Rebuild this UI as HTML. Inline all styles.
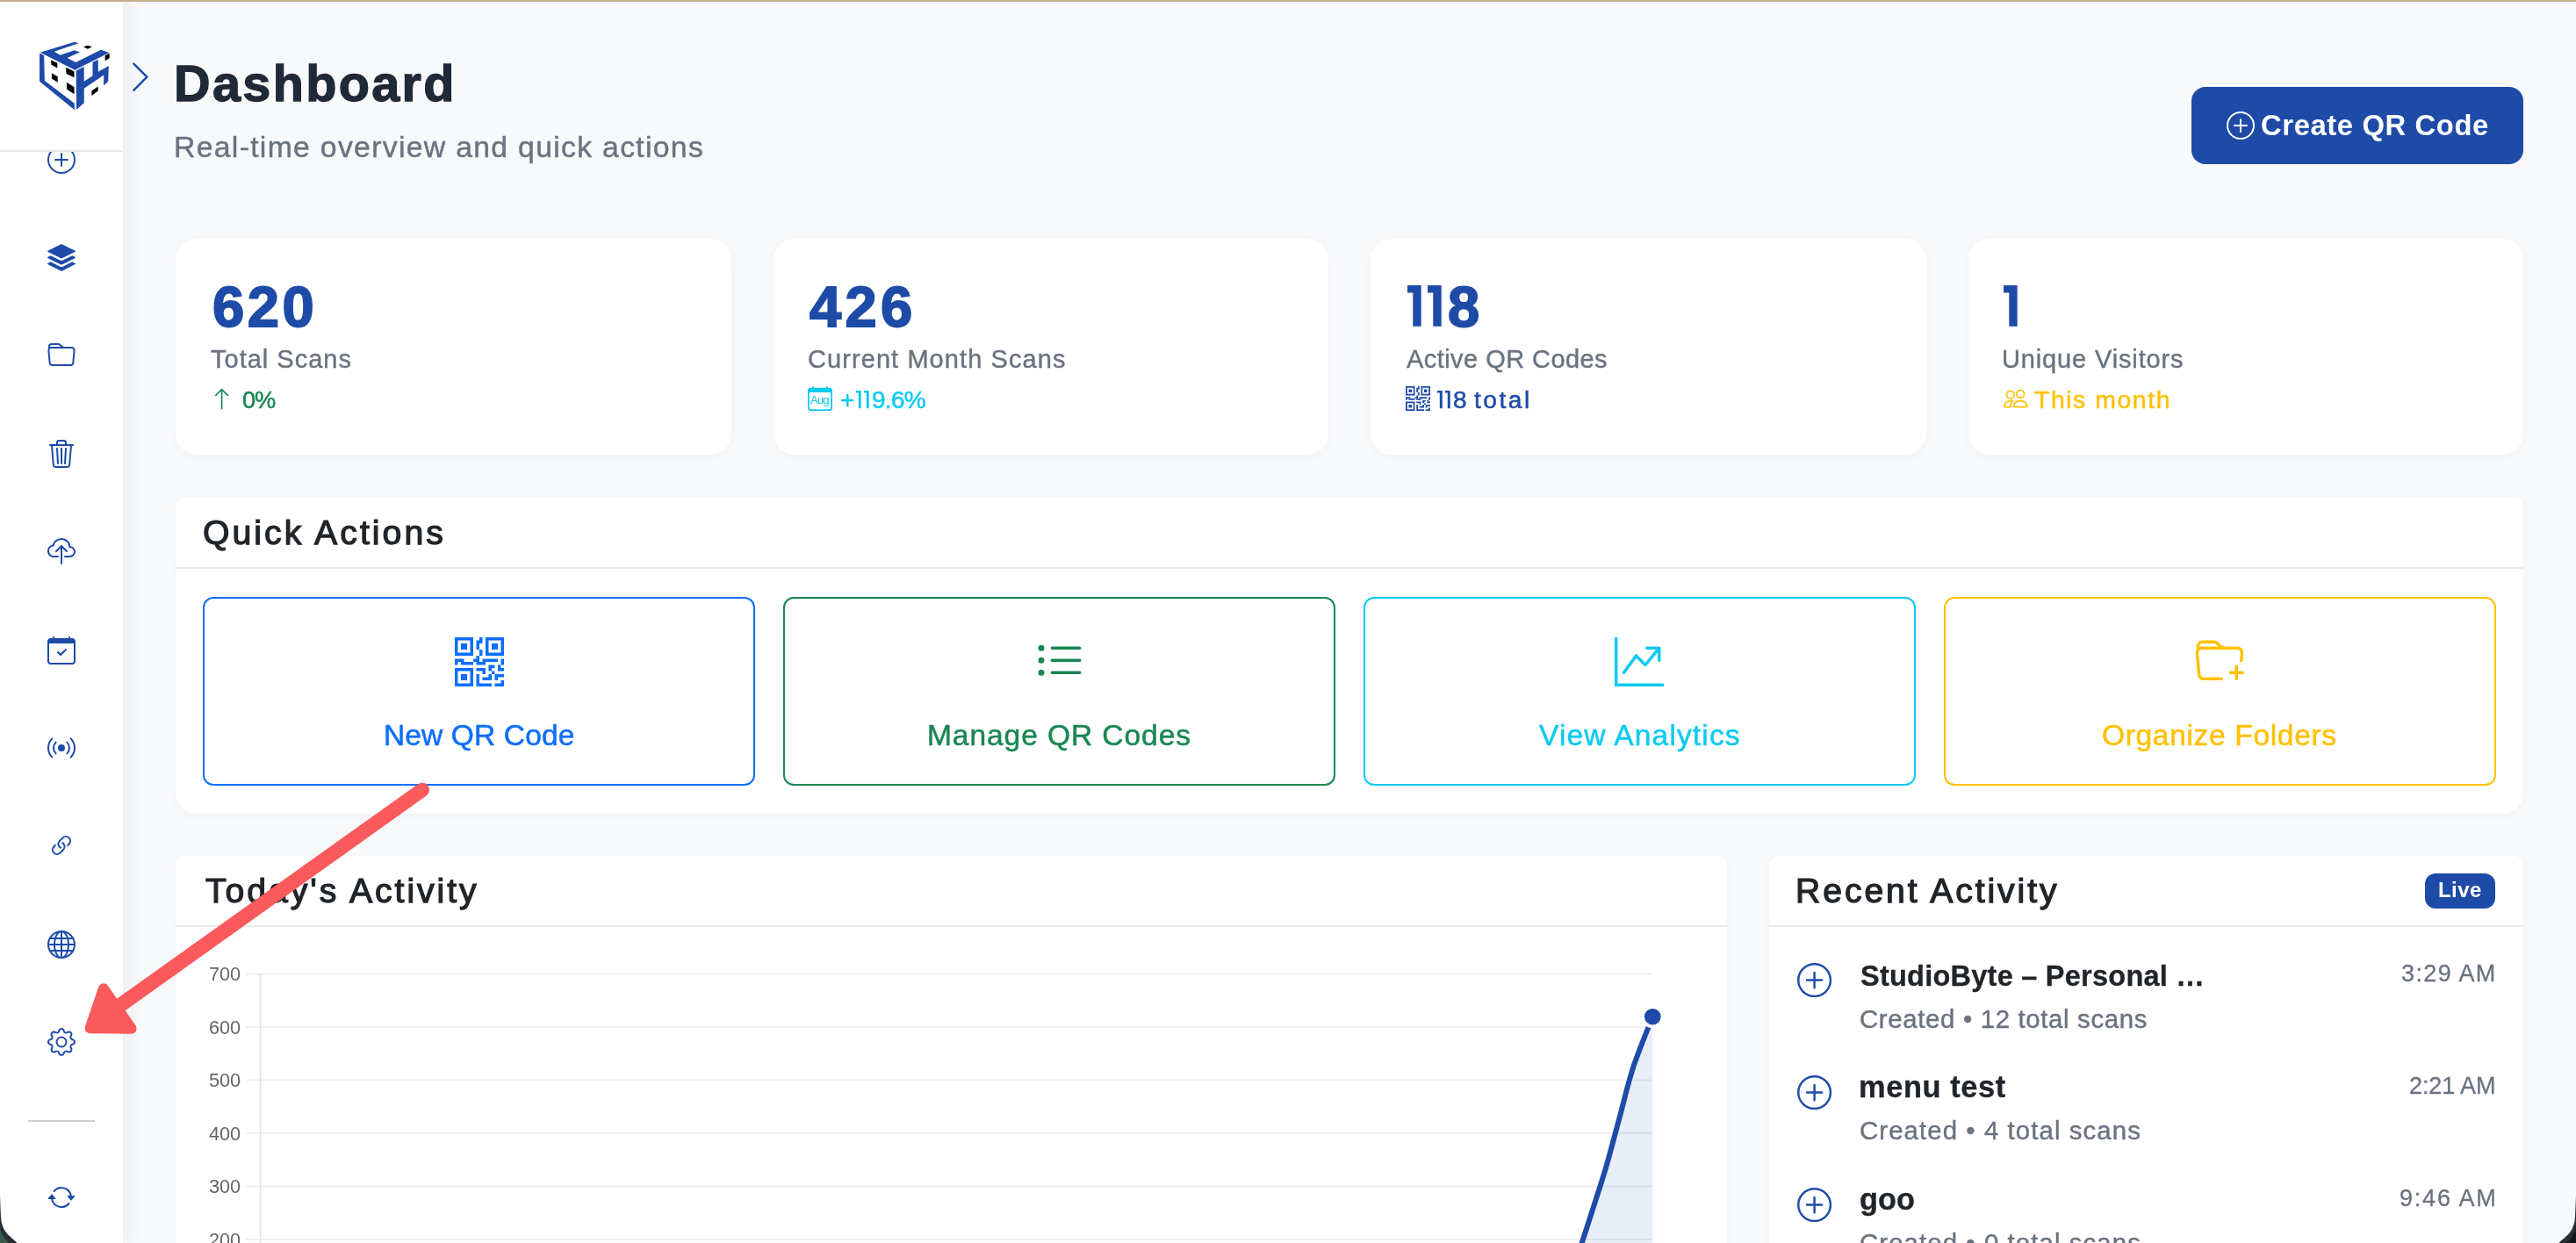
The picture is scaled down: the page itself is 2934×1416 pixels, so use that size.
<!DOCTYPE html>
<html lang="en"><head><meta charset="utf-8"><title>Dashboard</title>
<style>
*{box-sizing:border-box;margin:0;padding:0}
html,body{width:2934px;height:1416px;overflow:hidden;background:#f8f9fb;font-family:"Liberation Sans",sans-serif}
#root{position:absolute;left:0;top:0;width:2934px;height:1416px;overflow:hidden;background:#f8f9fb}
.t{position:absolute;white-space:nowrap;will-change:transform}
.i{position:absolute;display:block}
.b{position:absolute}
.card{position:absolute;background:#fff;box-shadow:0 3px 12px rgba(15,23,42,.035)}
.hl{position:absolute;height:2px;background:#e9ebef}
.qa{position:absolute;top:680px;height:215px;width:629px;border:2px solid;border-radius:12px;background:#fff}
</style></head><body><div id="root">

<div class="b" style="left:0;top:0;width:140px;height:1416px;background:#fff;box-shadow:4px 0 22px rgba(15,23,42,.07)"></div>
<svg class="i" style="left:54.00px;top:166.00px;" width="32" height="32" viewBox="0 0 16 16" fill="#1e4ba8"><path d="M8 15A7 7 0 1 1 8 1a7 7 0 0 1 0 14m0 1A8 8 0 1 0 8 0a8 8 0 0 0 0 16"/><path d="M8 4a.5.5 0 0 1 .5.5v3h3a.5.5 0 0 1 0 1h-3v3a.5.5 0 0 1-1 0v-3h-3a.5.5 0 0 1 0-1h3v-3A.5.5 0 0 1 8 4"/></svg>
<svg class="i" style="left:54.00px;top:277.70px;" width="32" height="32" viewBox="0 0 16 16" fill="#1e4ba8"><path d="m14.12 10.163 1.715.858c.22.11.22.424 0 .534L8.267 15.34a.6.6 0 0 1-.534 0L.165 11.555a.299.299 0 0 1 0-.534l1.716-.858 5.317 2.659c.505.252 1.1.252 1.604 0l5.317-2.66zM7.733.063a.6.6 0 0 1 .534 0l7.568 3.784a.3.3 0 0 1 0 .535L8.267 8.165a.6.6 0 0 1-.534 0L.165 4.382a.299.299 0 0 1 0-.535z"/><path d="m14.12 6.576 1.715.858c.22.11.22.424 0 .534l-7.568 3.784a.6.6 0 0 1-.534 0L.165 7.968a.299.299 0 0 1 0-.534l1.716-.858 5.317 2.659c.505.252 1.1.252 1.604 0z"/></svg>
<svg class="i" style="left:54.00px;top:389.40px;" width="32" height="32" viewBox="0 0 16 16" fill="#1e4ba8"><path d="M.54 3.87.5 3a2 2 0 0 1 2-2h3.672a2 2 0 0 1 1.414.586l.828.828A2 2 0 0 0 9.828 3h3.982a2 2 0 0 1 1.992 2.181l-.637 7A2 2 0 0 1 13.174 14H2.826a2 2 0 0 1-1.991-1.819l-.637-7a2 2 0 0 1 .342-1.31zM2.19 4a1 1 0 0 0-.996 1.09l.637 7a1 1 0 0 0 .995.91h10.348a1 1 0 0 0 .995-.91l.637-7A1 1 0 0 0 13.81 4zm4.69-1.707A1 1 0 0 0 6.172 2H2.5a1 1 0 0 0-1 .981l.006.139q.323-.119.684-.12h5.396z"/></svg>
<svg class="i" style="left:54.00px;top:501.10px;" width="32" height="32" viewBox="0 0 16 16" fill="#1e4ba8"><path d="M6.5 1h3a.5.5 0 0 1 .5.5v1H6v-1a.5.5 0 0 1 .5-.5M11 2.5v-1A1.5 1.5 0 0 0 9.5 0h-3A1.5 1.5 0 0 0 5 1.5v1H1.5a.5.5 0 0 0 0 1h.538l.853 10.66A2 2 0 0 0 4.885 16h6.23a2 2 0 0 0 1.994-1.84l.853-10.66h.538a.5.5 0 0 0 0-1zm1.958 1-.846 10.58a1 1 0 0 1-.997.92h-6.23a1 1 0 0 1-.997-.92L3.042 3.5zm-7.487 1a.5.5 0 0 1 .528.47l.5 8.5a.5.5 0 0 1-.998.06L5 5.03a.5.5 0 0 1 .47-.53Zm5.058 0a.5.5 0 0 1 .47.53l-.5 8.5a.5.5 0 1 1-.998-.06l.5-8.5a.5.5 0 0 1 .528-.47M8 4.5a.5.5 0 0 1 .5.5v8.5a.5.5 0 0 1-1 0V5a.5.5 0 0 1 .5-.5"/></svg>
<svg class="i" style="left:54.00px;top:612.80px;" width="32" height="32" viewBox="0 0 16 16" fill="#1e4ba8"><path fill-rule="evenodd" d="M4.406 1.342A5.53 5.53 0 0 1 8 0c2.69 0 4.923 2 5.166 4.579C14.758 4.804 16 6.137 16 7.773 16 9.569 14.502 11 12.687 11H10a.5.5 0 0 1 0-1h2.688C13.979 10 15 8.988 15 7.773c0-1.216-1.02-2.228-2.313-2.228h-.5v-.5C12.188 2.825 10.328 1 8 1a4.53 4.53 0 0 0-2.941 1.1c-.757.652-1.153 1.438-1.153 2.055v.448l-.445.049C2.064 4.805 1 5.952 1 7.318 1 8.785 2.23 10 3.781 10H6a.5.5 0 0 1 0 1H3.781C1.708 11 0 9.366 0 7.318c0-1.763 1.266-3.223 2.942-3.593.143-.863.698-1.723 1.464-2.383"/><path fill-rule="evenodd" d="M7.646 4.146a.5.5 0 0 1 .708 0l3 3a.5.5 0 0 1-.708.708L8.500 5.707V14.5a.5.5 0 0 1-1 0V5.707L5.354 7.854a.5.5 0 1 1-.708-.708z"/></svg>
<svg class="i" style="left:54.00px;top:724.50px;" width="32" height="32" viewBox="0 0 16 16" fill="#1e4ba8"><path d="M10.854 7.146a.5.5 0 0 1 0 .708l-3 3a.5.5 0 0 1-.708 0l-1.500-1.500a.5.5 0 1 1 .708-.708L7.500 9.793l2.646-2.647a.5.5 0 0 1 .708 0"/><path d="M3.500 0a.5.5 0 0 1 .5.5V1h8V.5a.5.5 0 0 1 1 0V1h1a2 2 0 0 1 2 2v11a2 2 0 0 1-2 2H2a2 2 0 0 1-2-2V3a2 2 0 0 1 2-2h1V.5a.5.5 0 0 1 .5-.5M1 4v10a1 1 0 0 0 1 1h12a1 1 0 0 0 1-1V4z"/></svg>
<svg class="i" style="left:54.00px;top:836.20px;" width="32" height="32" viewBox="0 0 16 16" fill="#1e4ba8"><path d="M3.050 3.050a7 7 0 0 0 0 9.900.5.5 0 0 1-.707.707 8 8 0 0 1 0-11.314.5.5 0 0 1 .707.707m2.122 2.122a4 4 0 0 0 0 5.656.5.5 0 1 1-.708.708 5 5 0 0 1 0-7.072.5.5 0 0 1 .708.708m5.656-.708a.5.5 0 0 1 .708 0 5 5 0 0 1 0 7.072.5.5 0 1 1-.708-.708 4 4 0 0 0 0-5.656.5.5 0 0 1 0-.708m2.122-2.120a.5.5 0 0 1 .707 0 8 8 0 0 1 0 11.313.5.5 0 0 1-.707-.707 7 7 0 0 0 0-9.900.5.5 0 0 1 0-.707zM10 8a2 2 0 1 1-4 0 2 2 0 0 1 4 0"/></svg>
<svg class="i" style="left:54.00px;top:947.90px;" width="32" height="32" viewBox="0 0 16 16" fill="#1e4ba8"><path d="M4.715 6.542 3.343 7.914a3 3 0 1 0 4.243 4.243l1.828-1.829A3 3 0 0 0 8.586 5.500L8 6.086a1 1 0 0 0-.154.199 2 2 0 0 1 .861 3.337L6.880 11.450a2 2 0 1 1-2.830-2.830l.793-.792a4 4 0 0 1-.128-1.287z"/><path d="M6.586 4.672A3 3 0 0 0 7.414 9.500l.775-.776a2 2 0 0 1-.896-3.346L9.120 3.550a2 2 0 1 1 2.830 2.830l-.793.792c.112.420.155.855.128 1.287l1.372-1.372a3 3 0 1 0-4.243-4.243z"/></svg>
<svg class="i" style="left:54.00px;top:1059.60px;" width="32" height="32" viewBox="0 0 16 16" fill="#1e4ba8"><path d="M0 8a8 8 0 1 1 16 0A8 8 0 0 1 0 8m7.500-6.923c-.67.204-1.335.82-1.887 1.855A8 8 0 0 0 5.145 4H7.500zM4.090 4a9.300 9.300 0 0 1 .64-1.539 7 7 0 0 1 .597-.933A7.030 7.030 0 0 0 2.255 4zm-.582 3.500c.03-.877.138-1.718.312-2.500H1.674a7 7 0 0 0-.656 2.500zM4.847 5a12.500 12.500 0 0 0-.338 2.500H7.500V5zM8.500 5v2.500h2.990a12.500 12.500 0 0 0-.337-2.500zM4.510 8.500a12.500 12.500 0 0 0 .337 2.500H7.500V8.500zm3.990 0V11h2.653c.187-.765.306-1.608.338-2.500zM5.145 12q.208.580.468 1.068c.552 1.035 1.218 1.650 1.887 1.855V12zm.182 2.472a7 7 0 0 1-.597-.933A9.300 9.300 0 0 1 4.090 12H2.255a7 7 0 0 0 3.072 2.472M3.820 11a13.700 13.700 0 0 1-.312-2.500h-2.490c.062.890.291 1.733.656 2.500zm6.853 3.472A7 7 0 0 0 13.745 12H11.910a9.300 9.300 0 0 1-.64 1.539 7 7 0 0 1-.597.933M8.500 12v2.923c.67-.204 1.335-.82 1.887-1.855q.260-.487.468-1.068zm3.680-1h2.146c.365-.767.594-1.610.656-2.500h-2.490a13.700 13.700 0 0 1-.312 2.500m2.802-3.500a7 7 0 0 0-.656-2.500H12.180c.174.782.282 1.623.312 2.500zM11.270 2.461c.247.464.462.980.64 1.539h1.835a7 7 0 0 0-3.072-2.472c.218.284.418.598.597.933M10.855 4a8 8 0 0 0-.468-1.068C9.835 1.897 9.170 1.282 8.500 1.077V4z"/></svg>
<svg class="i" style="left:54.00px;top:1171.30px;" width="32" height="32" viewBox="0 0 16 16" fill="#1e4ba8"><path d="M8 4.754a3.246 3.246 0 1 0 0 6.492 3.246 3.246 0 0 0 0-6.492M5.754 8a2.246 2.246 0 1 1 4.492 0 2.246 2.246 0 0 1-4.492 0"/><path d="M9.796 1.343c-.527-1.790-3.065-1.790-3.592 0l-.094.319a.873.873 0 0 1-1.255.520l-.292-.160c-1.640-.892-3.433.902-2.540 2.541l.159.292a.873.873 0 0 1-.520 1.255l-.319.094c-1.790.527-1.790 3.065 0 3.592l.319.094a.873.873 0 0 1 .520 1.255l-.160.292c-.892 1.640.901 3.434 2.541 2.540l.292-.159a.873.873 0 0 1 1.255.520l.094.319c.527 1.790 3.065 1.790 3.592 0l.094-.319a.873.873 0 0 1 1.255-.520l.292.160c1.640.893 3.434-.902 2.540-2.541l-.159-.292a.873.873 0 0 1 .520-1.255l.319-.094c1.790-.527 1.790-3.065 0-3.592l-.319-.094a.873.873 0 0 1-.520-1.255l.160-.292c.893-1.640-.902-3.433-2.541-2.540l-.292.159a.873.873 0 0 1-1.255-.520zm-2.633.283c.246-.835 1.428-.835 1.674 0l.094.319a1.873 1.873 0 0 0 2.693 1.115l.291-.160c.764-.415 1.600.420 1.184 1.185l-.159.292a1.873 1.873 0 0 0 1.116 2.692l.318.094c.835.246.835 1.428 0 1.674l-.319.094a1.873 1.873 0 0 0-1.115 2.693l.160.291c.415.764-.420 1.600-1.185 1.184l-.291-.159a1.873 1.873 0 0 0-2.693 1.116l-.094.318c-.246.835-1.428.835-1.674 0l-.094-.319a1.873 1.873 0 0 0-2.692-1.115l-.292.160c-.764.415-1.600-.420-1.184-1.185l.159-.291A1.873 1.873 0 0 0 1.945 8.930l-.319-.094c-.835-.246-.835-1.428 0-1.674l.319-.094A1.873 1.873 0 0 0 3.060 4.377l-.160-.292c-.415-.764.420-1.600 1.185-1.184l.292.159a1.873 1.873 0 0 0 2.692-1.115z"/></svg>
<div class="b" style="left:32px;top:1276px;width:76px;height:2px;background:#cdd0d4"></div>
<svg class="i" style="left:54.00px;top:1348.00px;" width="32" height="32" viewBox="0 0 16 16" fill="#1e4ba8"><path d="M11.534 7h3.932a.25.25 0 0 1 .192.410l-1.966 2.360a.25.25 0 0 1-.384 0l-1.966-2.360a.25.25 0 0 1 .192-.410m-11 2h3.932a.25.25 0 0 0 .192-.410L2.692 6.230a.25.25 0 0 0-.384 0L.342 8.590A.25.25 0 0 0 .534 9"/><path fill-rule="evenodd" d="M8 3c-1.552 0-2.940.707-3.857 1.818a.5.5 0 1 1-.771-.636A6.002 6.002 0 0 1 13.917 7H12.900A5 5 0 0 0 8 3M3.100 9a5.002 5.002 0 0 0 8.757 2.182.5.5 0 1 1 .771.636A6.002 6.002 0 0 1 2.083 9z"/></svg>
<div class="b" style="left:0;top:0;width:140px;height:173px;background:#fff;border-bottom:2px solid #e3e6ea"></div>
<svg class="i" style="left:40px;top:42px" width="90" height="90" viewBox="0 0 90 90">
<g fill="#1e4ba8">
<polygon points="5.07,18.46 10.14,21.00 10.86,49.96 44.90,75.67 44.90,83.27 5.07,50.69"/>
<polygon points="5.79,17.74 44.90,5.79 49.60,7.24 21.72,16.80 28.60,20.64 44.90,15.21 51.05,17.52 36.57,24.04 46.34,28.96 74.95,14.84 84.36,17.96 45.26,37.65"/>
<polygon points="46.71,38.38 55.61,33.89 55.76,50.69 65.53,44.32 65.53,28.96 71.69,25.85 71.83,39.83 83.78,32.95 83.27,50.69 78.06,55.39 78.20,43.45 55.76,58.80 55.76,75.31 47.07,82.91"/>
</g>
<g fill="#000">
<polygon points="55.03,11.22 60.10,9.78 64.81,11.59 59.74,13.76"/>
<polygon points="79.65,21.36 84.72,18.68 84.72,24.26 79.65,27.15"/>
<polygon points="64.45,61.55 71.69,56.48 71.69,61.55 64.45,66.98"/>
<polygon points="18.10,26.43 25.34,29.69 25.34,35.48 18.46,31.86"/>
<polygon points="35.12,34.76 44.53,39.46 44.53,46.34 35.48,42.00"/>
<polygon points="18.83,41.27 25.71,45.26 25.71,51.77 18.97,47.79"/>
<polygon points="35.84,51.77 44.53,57.20 44.53,65.17 36.21,59.74"/>
</g></svg>
<svg class="i" style="left:140px;top:60px" width="40" height="56" viewBox="140 60 40 56"><polyline points="152.3,72.6 167.4,87.7 152.3,102.8" fill="none" stroke="#1e4ba8" stroke-width="2.5" stroke-linecap="round" stroke-linejoin="round"/></svg>
<div class="t" style="left:198.10px;top:67.00px;font-size:57.6px;line-height:57.6px;color:#1f2937;font-weight:700;letter-spacing:2.331px;-webkit-text-stroke:1.3px #1f2937;">Dashboard</div>
<div class="t" style="left:198.03px;top:151.00px;font-size:33.8px;line-height:33.8px;color:#6b7280;letter-spacing:1.284px;-webkit-text-stroke:0.45px #6b7280;">Real-time overview and quick actions</div>
<div class="b" style="left:2496px;top:99px;width:378px;height:88px;border-radius:16px;background:#1e4ba8"></div>
<svg class="i" style="left:2536.00px;top:126.80px;" width="32" height="32" viewBox="0 0 16 16" fill="#fff"><path d="M8 15A7 7 0 1 1 8 1a7 7 0 0 1 0 14m0 1A8 8 0 1 0 8 0a8 8 0 0 0 0 16"/><path d="M8 4a.5.5 0 0 1 .5.5v3h3a.5.5 0 0 1 0 1h-3v3a.5.5 0 0 1-1 0v-3h-3a.5.5 0 0 1 0-1h3v-3A.5.5 0 0 1 8 4"/></svg>
<div class="t" style="left:2575.30px;top:127.00px;font-size:32.8px;line-height:32.8px;color:#fff;font-weight:700;letter-spacing:0.600px;">Create QR Code</div>
<div class="card" style="left:200px;top:272px;width:632.5px;height:246px;border-radius:24px"></div>
<div class="card" style="left:880.5px;top:272px;width:632.5px;height:246px;border-radius:24px"></div>
<div class="card" style="left:1561px;top:272px;width:632.5px;height:246px;border-radius:24px"></div>
<div class="card" style="left:2241.5px;top:272px;width:632.5px;height:246px;border-radius:24px"></div>
<div class="t" style="left:241.60px;top:317.00px;font-size:65.2px;line-height:65.2px;color:#1e4ba8;font-weight:700;letter-spacing:3.450px;-webkit-text-stroke:1.8px #1e4ba8;">620</div>
<div class="t" style="left:921.80px;top:317.00px;font-size:65.2px;line-height:65.2px;color:#1e4ba8;font-weight:700;letter-spacing:4.300px;-webkit-text-stroke:1.8px #1e4ba8;">426</div>
<svg class="i" style="left:1601.9px;top:322.9px" width="17.7" height="50.8" viewBox="1601.9 322.9 17.7 50.8"><polygon fill="#1e4ba8" points="1602.9,324.9 1618.6,324.9 1618.6,371.7 1609.2,371.7 1609.2,333.3 1602.9,333.3"/></svg>
<svg class="i" style="left:1625.0px;top:322.9px" width="17.7" height="50.8" viewBox="1625.0 322.9 17.7 50.8"><polygon fill="#1e4ba8" points="1626.0,324.9 1641.7,324.9 1641.7,371.7 1632.3,371.7 1632.3,333.3 1626.0,333.3"/></svg>
<svg class="i" style="left:2281.4px;top:322.9px" width="17.7" height="50.8" viewBox="2281.4 322.9 17.7 50.8"><polygon fill="#1e4ba8" points="2282.4,324.9 2298.1,324.9 2298.1,371.7 2288.7,371.7 2288.7,333.3 2282.4,333.3"/></svg>
<div class="t" style="left:1649.10px;top:317.00px;font-size:65.2px;line-height:65.2px;color:#1e4ba8;font-weight:700;letter-spacing:0.000px;-webkit-text-stroke:1.8px #1e4ba8;">8</div>
<div class="t" style="left:240.10px;top:395.00px;font-size:29.0px;line-height:29.0px;color:#6b7280;letter-spacing:1.005px;-webkit-text-stroke:0.4px #6b7280;">Total Scans</div>
<div class="t" style="left:919.60px;top:395.00px;font-size:29.0px;line-height:29.0px;color:#6b7280;letter-spacing:1.078px;-webkit-text-stroke:0.4px #6b7280;">Current Month Scans</div>
<div class="t" style="left:1602.00px;top:395.00px;font-size:29.0px;line-height:29.0px;color:#6b7280;letter-spacing:0.443px;-webkit-text-stroke:0.4px #6b7280;">Active QR Codes</div>
<div class="t" style="left:2279.80px;top:395.00px;font-size:29.0px;line-height:29.0px;color:#6b7280;letter-spacing:0.864px;-webkit-text-stroke:0.4px #6b7280;">Unique Visitors</div>
<svg class="i" style="left:239.30px;top:441.30px;" width="27.2" height="27.2" viewBox="0 0 16 16" fill="#198754"><path fill-rule="evenodd" d="M8 15a.5.5 0 0 0 .5-.5V2.707l3.146 3.147a.5.5 0 0 0 .708-.708l-4-4a.5.5 0 0 0-.708 0l-4 4a.5.5 0 1 0 .708.708L7.500 2.707V14.500a.5.5 0 0 0 .5.5"/></svg>
<div class="t" style="left:275.50px;top:442.00px;font-size:27.2px;line-height:27.2px;color:#198754;letter-spacing:-1.150px;-webkit-text-stroke:0.5px #198754;">0%</div>
<svg class="i" style="left:920.20px;top:440.30px;" width="28" height="28" viewBox="0 0 16 16" fill="#0dcaf0"><path d="M3.500 0a.5.5 0 0 1 .5.5V1h8V.5a.5.5 0 0 1 1 0V1h1a2 2 0 0 1 2 2v11a2 2 0 0 1-2 2H2a2 2 0 0 1-2-2V3a2 2 0 0 1 2-2h1V.5a.5.5 0 0 1 .5-.5M1 4v10a1 1 0 0 0 1 1h12a1 1 0 0 0 1-1V4z"/></svg>
<div class="t" style="left:923.40px;top:449.00px;font-size:13.2px;line-height:13.2px;color:#0dcaf0;letter-spacing:-0.900px;">Aug</div>
<div class="t" style="left:956.75px;top:442.00px;font-size:28px;line-height:28px;color:#0dcaf0;letter-spacing:0.000px;-webkit-text-stroke:0.5px #0dcaf0;">+</div>
<svg class="i" style="left:974.2px;top:442.8px" width="7.7" height="24.2" viewBox="974.2 442.8 7.7 24.2"><polygon fill="#0dcaf0" points="975.2,444.8 980.9,444.8 980.9,465 978.0,465 978.0,447.3 975.2,447.3"/></svg>
<svg class="i" style="left:983.2px;top:442.8px" width="7.7" height="24.2" viewBox="983.2 442.8 7.7 24.2"><polygon fill="#0dcaf0" points="984.2,444.8 989.9,444.8 989.9,465 987.0,465 987.0,447.3 984.2,447.3"/></svg>
<div class="t" style="left:993.15px;top:442.00px;font-size:28px;line-height:28px;color:#0dcaf0;letter-spacing:-0.700px;-webkit-text-stroke:0.5px #0dcaf0;">9.6%</div>
<svg class="i" style="left:1600.90px;top:440.20px;" width="28" height="28" viewBox="0 0 16 16" fill="#1e4ba8"><path d="M2 2h2v2H2z"/><path d="M6 0v6H0V0zM5 1H1v4h4zM4 12H2v2h2z"/><path d="M6 10v6H0v-6zm-5 1v4h4v-4zm11-9h2v2h-2z"/><path d="M10 0v6h6V0zm5 1v4h-4V1zM8 1V0h1v2H8v2H7V1zm0 5V4h1v2zM6 8V7h1V6h1v2h1V7h5v1h-4v1H7V8zm0 0v1H2V8H1v1H0V7h3v1zm10 1h-1V7h1zm-1 0h-1v2h2v-1h-1zm-4 0h2v1h-1v1h-1zm2 3v-1h-1v1h-1v1H9v1h3v-2zm0 0h3v1h-2v1h-1zm-4-1v1h1v-2H7v1z"/><path d="M7 12h1v3h4v1H7zm9 2v2h-3v-1h2v-1z"/></svg>
<svg class="i" style="left:1635.9px;top:442.8px" width="7.8" height="24.2" viewBox="1635.9 442.8 7.8 24.2"><polygon fill="#1e4ba8" points="1636.9,444.8 1642.7,444.8 1642.7,465 1639.7,465 1639.7,447.3 1636.9,447.3"/></svg>
<svg class="i" style="left:1645.1px;top:442.8px" width="7.8" height="24.2" viewBox="1645.1 442.8 7.8 24.2"><polygon fill="#1e4ba8" points="1646.1,444.8 1651.8,444.8 1651.8,465 1648.9,465 1648.9,447.3 1646.1,447.3"/></svg>
<div class="t" style="left:1654.55px;top:442.00px;font-size:28px;line-height:28px;color:#1e4ba8;letter-spacing:0.000px;-webkit-text-stroke:0.5px #1e4ba8;">8</div>
<div class="t" style="left:1679.25px;top:441.00px;font-size:28.2px;line-height:28.2px;color:#1e4ba8;letter-spacing:2.500px;-webkit-text-stroke:0.5px #1e4ba8;">total</div>
<svg class="i" style="left:2281.60px;top:440.20px;" width="28" height="28" viewBox="0 0 16 16" fill="#ffc107"><path d="M15 14s1 0 1-1-1-4-5-4-5 3-5 4 1 1 1 1zm-7.978-1L7 12.996c.001-.264.167-1.030.760-1.720C8.312 10.629 9.282 10 11 10c1.717 0 2.687.630 3.240 1.276.593.690.758 1.457.760 1.720l-.008.002-.014.002zM11 7a2 2 0 1 0 0-4 2 2 0 0 0 0 4m3-2a3 3 0 1 1-6 0 3 3 0 0 1 6 0M6.936 9.280a6 6 0 0 0-1.230-.247A7 7 0 0 0 5 9c-4 0-5 3-5 4q0 1 1 1h4.216A2.240 2.240 0 0 1 5 13c0-1.010.377-2.042 1.090-2.904.243-.294.526-.569.846-.816M4.920 10A5.500 5.500 0 0 0 4 13H1c0-.260.164-1.030.760-1.724.545-.636 1.492-1.256 3.160-1.275ZM1.500 5.500a3 3 0 1 1 6 0 3 3 0 0 1-6 0m3-2a2 2 0 1 0 0 4 2 2 0 0 0 0-4"/></svg>
<div class="t" style="left:2317.35px;top:441.00px;font-size:28.4px;line-height:28.4px;color:#ffc107;letter-spacing:1.556px;-webkit-text-stroke:0.5px #ffc107;">This month</div>
<div class="card" style="left:200px;top:566px;width:2674px;height:361px;border-radius:11px 11px 24px 24px"></div>
<div class="hl" style="left:200px;top:646px;width:2674px"></div>
<div class="t" style="left:231.32px;top:587.00px;font-size:39.2px;line-height:39.2px;color:#212529;letter-spacing:3.038px;-webkit-text-stroke:1.25px #212529;">Quick Actions</div>
<div class="qa" style="left:231px;border-color:#0d6efd"></div>
<svg class="i" style="left:518.00px;top:725.50px;" width="56" height="56" viewBox="0 0 16 16" fill="#0d6efd"><path d="M2 2h2v2H2z"/><path d="M6 0v6H0V0zM5 1H1v4h4zM4 12H2v2h2z"/><path d="M6 10v6H0v-6zm-5 1v4h4v-4zm11-9h2v2h-2z"/><path d="M10 0v6h6V0zm5 1v4h-4V1zM8 1V0h1v2H8v2H7V1zm0 5V4h1v2zM6 8V7h1V6h1v2h1V7h5v1h-4v1H7V8zm0 0v1H2V8H1v1H0V7h3v1zm10 1h-1V7h1zm-1 0h-1v2h2v-1h-1zm-4 0h2v1h-1v1h-1zm2 3v-1h-1v1h-1v1H9v1h3v-2zm0 0h3v1h-2v1h-1zm-4-1v1h1v-2H7v1z"/><path d="M7 12h1v3h4v1H7zm9 2v2h-3v-1h2v-1z"/></svg>
<div class="t" style="left:436.68px;top:821.00px;font-size:33.6px;line-height:33.6px;color:#0d6efd;letter-spacing:0.085px;-webkit-text-stroke:0.5px #0d6efd;">New QR Code</div>
<div class="qa" style="left:892px;border-color:#198754"></div>
<svg class="i" style="left:1178.50px;top:725.50px;" width="56" height="56" viewBox="0 0 16 16" fill="#198754"><path fill-rule="evenodd" d="M5 11.500a.5.5 0 0 1 .5-.5h9a.5.5 0 0 1 0 1h-9a.5.5 0 0 1-.5-.5m0-4a.5.5 0 0 1 .5-.5h9a.5.5 0 0 1 0 1h-9a.5.5 0 0 1-.5-.5m0-4a.5.5 0 0 1 .5-.5h9a.5.5 0 0 1 0 1h-9a.5.5 0 0 1-.5-.5m-3 1a1 1 0 1 0 0-2 1 1 0 0 0 0 2m0 4a1 1 0 1 0 0-2 1 1 0 0 0 0 2m0 4a1 1 0 1 0 0-2 1 1 0 0 0 0 2"/></svg>
<div class="t" style="left:1055.65px;top:821.00px;font-size:33.6px;line-height:33.6px;color:#198754;letter-spacing:0.900px;-webkit-text-stroke:0.5px #198754;">Manage QR Codes</div>
<div class="qa" style="left:1553px;border-color:#0dcaf0"></div>
<svg class="i" style="left:1839.00px;top:725.50px;" width="56" height="56" viewBox="0 0 16 16" fill="#0dcaf0"><path fill-rule="evenodd" d="M0 0h1v15h15v1H0zm10 3.500a.5.5 0 0 1 .5-.5h4a.5.5 0 0 1 .5.5v4a.5.5 0 0 1-1 0V4.900l-3.613 4.417a.5.5 0 0 1-.740.037L7.060 6.767l-3.656 5.027a.5.5 0 0 1-.808-.588l4-5.500a.5.5 0 0 1 .758-.060l2.609 2.610L13.445 4H10.500a.5.5 0 0 1-.5-.5"/></svg>
<div class="t" style="left:1753.15px;top:821.00px;font-size:33.6px;line-height:33.6px;color:#0dcaf0;letter-spacing:1.123px;-webkit-text-stroke:0.5px #0dcaf0;">View Analytics</div>
<div class="qa" style="left:2214px;border-color:#ffc107"></div>
<svg class="i" style="left:2500.00px;top:725.50px;" width="56" height="56" viewBox="0 0 16 16" fill="#ffc107"><path d="m.5 3 .04.870a2 2 0 0 0-.342 1.311l.637 7A2 2 0 0 0 2.826 14H9v-1H2.826a1 1 0 0 1-.995-.910l-.637-7A1 1 0 0 1 2.190 4h11.620a1 1 0 0 1 .996 1.090L14.540 8h1.005l.256-2.819A2 2 0 0 0 13.810 3H9.828a2 2 0 0 1-1.414-.586l-.828-.828A2 2 0 0 0 6.172 1H2.500a2 2 0 0 0-2 2m5.672-1a1 1 0 0 1 .707.293L7.586 3H2.190q-.362.002-.683.120L1.500 2.980a1 1 0 0 1 1-.980z"/><path d="M13.500 9a.5.5 0 0 1 .5.5V11h1.500a.5.5 0 1 1 0 1H14v1.500a.5.5 0 1 1-1 0V12h-1.500a.5.5 0 0 1 0-1H13V9.500a.5.5 0 0 1 .5-.5"/></svg>
<div class="t" style="left:2394.25px;top:821.00px;font-size:33.6px;line-height:33.6px;color:#ffc107;letter-spacing:0.633px;-webkit-text-stroke:0.5px #ffc107;">Organize Folders</div>
<div class="card" style="left:200px;top:974.5px;width:1767px;height:470px;border-radius:11px 11px 0 0"></div>
<div class="hl" style="left:200px;top:1054px;width:1767px"></div>
<div class="t" style="left:233.57px;top:995.00px;font-size:39.2px;line-height:39.2px;color:#212529;letter-spacing:2.947px;-webkit-text-stroke:1.25px #212529;">Today's Activity</div>
<svg class="i" style="left:200px;top:1056px" width="1767" height="360" viewBox="200 1056 1767 360"><rect x="280.5" y="1108.7" width="1601.5" height="1.6" fill="#ebebee"/><rect x="280.5" y="1169.2" width="1601.5" height="1.6" fill="#ebebee"/><rect x="280.5" y="1229.7" width="1601.5" height="1.6" fill="#ebebee"/><rect x="280.5" y="1290.2" width="1601.5" height="1.6" fill="#ebebee"/><rect x="280.5" y="1350.7" width="1601.5" height="1.6" fill="#ebebee"/><rect x="280.5" y="1411.2" width="1601.5" height="1.6" fill="#ebebee"/><rect x="295.7" y="1109" width="1.6" height="320" fill="#e0e0e4"/><path d="M1882.3 1158.2 C1878.6 1167.8 1866.5 1196.7 1860.2 1215.9 C1853.9 1235.1 1849.7 1254.3 1844.5 1273.5 C1839.3 1292.7 1834.0 1313.3 1828.8 1331.2 C1823.5 1349.1 1817.5 1367.0 1813.0 1381.0 C1808.5 1395.0 1805.8 1403.5 1802.0 1415.0 C1798.2 1426.5 1792.0 1444.2 1790.0 1450.0 L1882.3 1450 Z" fill="rgba(30,75,168,.10)"/><path d="M1882.3 1158.2 C1878.6 1167.8 1866.5 1196.7 1860.2 1215.9 C1853.9 1235.1 1849.7 1254.3 1844.5 1273.5 C1839.3 1292.7 1834.0 1313.3 1828.8 1331.2 C1823.5 1349.1 1817.5 1367.0 1813.0 1381.0 C1808.5 1395.0 1805.8 1403.5 1802.0 1415.0 C1798.2 1426.5 1792.0 1444.2 1790.0 1450.0" fill="none" stroke="#1e4ba8" stroke-width="6" stroke-linejoin="round" stroke-linecap="round"/><circle cx="1882.3" cy="1158.2" r="13" fill="#fff"/><circle cx="1882.3" cy="1158.2" r="9.3" fill="#1e4ba8"/></svg>
<div class="t" style="left:237.85px;top:1099.00px;font-size:21.7px;line-height:21.7px;color:#666;letter-spacing:0.000px;">700</div>
<div class="t" style="left:237.85px;top:1160.00px;font-size:21.7px;line-height:21.7px;color:#666;letter-spacing:0.000px;">600</div>
<div class="t" style="left:237.85px;top:1220.00px;font-size:21.7px;line-height:21.7px;color:#666;letter-spacing:0.000px;">500</div>
<div class="t" style="left:237.85px;top:1281.00px;font-size:21.7px;line-height:21.7px;color:#666;letter-spacing:0.000px;">400</div>
<div class="t" style="left:237.85px;top:1341.00px;font-size:21.7px;line-height:21.7px;color:#666;letter-spacing:0.000px;">300</div>
<div class="t" style="left:237.85px;top:1402.00px;font-size:21.7px;line-height:21.7px;color:#666;letter-spacing:0.000px;">200</div>
<div class="card" style="left:2015px;top:974.5px;width:859px;height:470px;border-radius:11px 11px 0 0"></div>
<div class="hl" style="left:2015px;top:1054px;width:859px"></div>
<div class="t" style="left:2045.42px;top:995.00px;font-size:39.2px;line-height:39.2px;color:#212529;letter-spacing:2.900px;-webkit-text-stroke:1.25px #212529;">Recent Activity</div>
<div class="b" style="left:2762px;top:994.5px;width:80px;height:40px;border-radius:12px;background:#1e4ba8"></div>
<div class="t" style="left:2777.15px;top:1002.00px;font-size:24px;line-height:24px;color:#fff;font-weight:700;letter-spacing:0.433px;">Live</div>
<svg class="i" style="left:2047.00px;top:1097.00px;" width="39.2" height="39.2" viewBox="0 0 16 16" fill="#1e4ba8"><path d="M8 15A7 7 0 1 1 8 1a7 7 0 0 1 0 14m0 1A8 8 0 1 0 8 0a8 8 0 0 0 0 16"/><path d="M8 4a.5.5 0 0 1 .5.5v3h3a.5.5 0 0 1 0 1h-3v3a.5.5 0 0 1-1 0v-3h-3a.5.5 0 0 1 0-1h3v-3A.5.5 0 0 1 8 4"/></svg>
<div class="t" style="left:2118.75px;top:1096.00px;font-size:32.6px;line-height:32.6px;color:#212529;font-weight:700;letter-spacing:0.205px;-webkit-text-stroke:0.3px #212529;">StudioByte – Personal …</div>
<div class="t" style="left:2118.30px;top:1146.00px;font-size:29.4px;line-height:29.4px;color:#6b7280;letter-spacing:0.648px;-webkit-text-stroke:0.4px #6b7280;">Created • 12 total scans</div>
<div class="t" style="left:2735.40px;top:1096.00px;font-size:27px;line-height:27px;color:#6b7280;letter-spacing:1.383px;-webkit-text-stroke:0.3px #6b7280;">3:29 AM</div>
<svg class="i" style="left:2047.00px;top:1224.80px;" width="39.2" height="39.2" viewBox="0 0 16 16" fill="#1e4ba8"><path d="M8 15A7 7 0 1 1 8 1a7 7 0 0 1 0 14m0 1A8 8 0 1 0 8 0a8 8 0 0 0 0 16"/><path d="M8 4a.5.5 0 0 1 .5.5v3h3a.5.5 0 0 1 0 1h-3v3a.5.5 0 0 1-1 0v-3h-3a.5.5 0 0 1 0-1h3v-3A.5.5 0 0 1 8 4"/></svg>
<div class="t" style="left:2117.45px;top:1221.00px;font-size:34.4px;line-height:34.4px;color:#212529;font-weight:700;letter-spacing:0.600px;-webkit-text-stroke:0.3px #212529;">menu test</div>
<div class="t" style="left:2118.30px;top:1273.00px;font-size:29.4px;line-height:29.4px;color:#6b7280;letter-spacing:1.077px;-webkit-text-stroke:0.4px #6b7280;">Created • 4 total scans</div>
<div class="t" style="left:2744.35px;top:1224.00px;font-size:27px;line-height:27px;color:#6b7280;letter-spacing:-0.108px;-webkit-text-stroke:0.3px #6b7280;">2:21 AM</div>
<svg class="i" style="left:2047.00px;top:1352.60px;" width="39.2" height="39.2" viewBox="0 0 16 16" fill="#1e4ba8"><path d="M8 15A7 7 0 1 1 8 1a7 7 0 0 1 0 14m0 1A8 8 0 1 0 8 0a8 8 0 0 0 0 16"/><path d="M8 4a.5.5 0 0 1 .5.5v3h3a.5.5 0 0 1 0 1h-3v3a.5.5 0 0 1-1 0v-3h-3a.5.5 0 0 1 0-1h3v-3A.5.5 0 0 1 8 4"/></svg>
<div class="t" style="left:2118.25px;top:1349.00px;font-size:34.4px;line-height:34.4px;color:#212529;font-weight:700;letter-spacing:0.000px;-webkit-text-stroke:0.3px #212529;">goo</div>
<div class="t" style="left:2118.30px;top:1401.00px;font-size:29.4px;line-height:29.4px;color:#6b7280;letter-spacing:1.077px;-webkit-text-stroke:0.4px #6b7280;">Created • 0 total scans</div>
<div class="t" style="left:2733.00px;top:1352.00px;font-size:27px;line-height:27px;color:#6b7280;letter-spacing:1.783px;-webkit-text-stroke:0.3px #6b7280;">9:46 AM</div>
<svg class="i" style="left:60px;top:860px" width="480" height="360" viewBox="60 860 480 360">
<line x1="480.8" y1="899.9" x2="134" y2="1147.3" stroke="#fa5a5c" stroke-width="16.5" stroke-linecap="round"/>
<polygon points="117.9,1126.3 149.6,1171.8 102.6,1171.3" fill="#fa5a5c" stroke="#fa5a5c" stroke-width="12" stroke-linejoin="round"/>
</svg>
<div class="b" style="left:0;top:0;width:2934px;height:2px;background:#c9ad8b"></div>
<svg class="i" style="left:0;top:1356px" width="2934" height="60" viewBox="0 1356 2934 60">
<path d="M0.0 1362.0 C0.2 1365.8 0.6 1379.6 1.0 1385.0 C1.4 1390.4 1.4 1391.4 2.4 1394.6 C3.4 1397.8 4.2 1400.6 7.2 1404.3 C10.2 1408.0 18.1 1414.5 20.3 1416.5 L0 1416.5 Z" fill="#2a2d34"/>
<path d="M0.0 1399.5 C0.5 1400.7 1.7 1404.5 2.9 1406.7 C4.1 1409.0 5.9 1411.4 7.2 1413.0 C8.6 1414.6 10.4 1415.9 11.0 1416.5 L0 1416.5 Z" fill="#3b5a4b"/>
<path d="M2934.0 1362.0 C2933.8 1365.8 2933.4 1379.6 2933.0 1385.0 C2932.6 1390.4 2932.6 1391.4 2931.6 1394.6 C2930.6 1397.8 2929.8 1400.6 2926.8 1404.3 C2923.8 1408.0 2915.9 1414.5 2913.7 1416.5 L2934 1416.5 Z" fill="#2a2e37"/>
<path d="M2934.0 1390.0 C2933.9 1391.6 2934.0 1396.3 2933.2 1399.5 C2932.4 1402.7 2931.0 1406.2 2929.4 1409.0 C2927.8 1411.8 2924.6 1415.2 2923.6 1416.5 L2934 1416.5 Z" fill="#15181b"/>
</svg>
</div></body></html>
